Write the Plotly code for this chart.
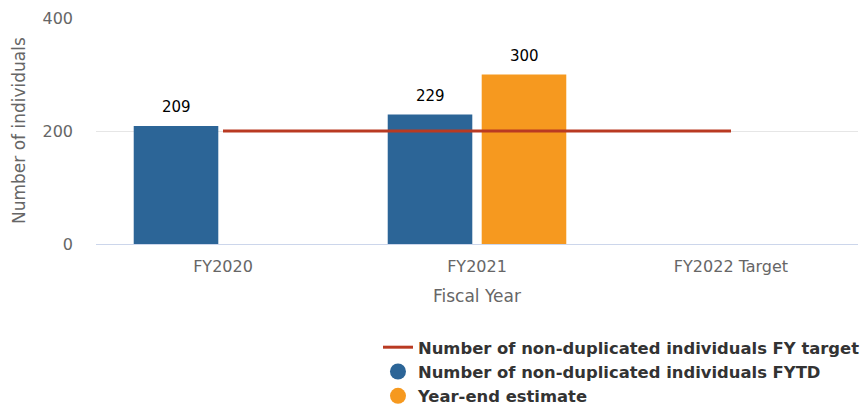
import plotly.graph_objects as go

# Fiscal year categories and series values
categories = ["FY2020", "FY2021", "FY2022 Target"]
fytd_values = [209, 229, None]
year_end_estimate = [None, 300, None]
target_values = [200, 200, 200]

target_name = "Number of non-duplicated individuals FY target"
fytd_name = "Number of non-duplicated individuals FYTD"
estimate_name = "Year-end estimate"

BLUE = "#2c6597"
ORANGE = "#f6991f"
RED = "#b93a22"
FONT = "DejaVu Sans"

fig = go.Figure()

fig.add_trace(go.Bar(
    x=categories, y=fytd_values, name=fytd_name,
    marker=dict(color=BLUE, line=dict(width=0)),
    showlegend=False,
))
fig.add_trace(go.Bar(
    x=categories, y=year_end_estimate, name=estimate_name,
    marker=dict(color=ORANGE, line=dict(width=0)),
    showlegend=False,
))
fig.add_trace(go.Scatter(
    x=categories, y=target_values, name=target_name,
    mode="lines", line=dict(color=RED, width=3),
    showlegend=True,
))
# Legend entries with round symbols for the bar series
for name, color in [(fytd_name, BLUE), (estimate_name, ORANGE)]:
    fig.add_trace(go.Scatter(
        x=[None], y=[None], name=name, mode="markers",
        marker=dict(color=color, size=17, symbol="circle"),
        showlegend=True,
    ))

# Value labels above the bars
half_slot = 47
for vals, shift in [(fytd_values, -half_slot), (year_end_estimate, half_slot)]:
    for cat, v in zip(categories, vals):
        if v is None:
            continue
        fig.add_annotation(
            x=cat, y=v, text=str(v), showarrow=False,
            xshift=shift, yshift=8, yanchor="bottom",
            font=dict(family=FONT, size=15, color="#000000"),
        )

# Y-axis title
fig.add_annotation(
    text="Number of individuals", textangle=-90, showarrow=False,
    xref="paper", yref="paper", x=0, y=0.5, xanchor="center", yanchor="middle",
    xshift=-77, font=dict(family=FONT, size=17, color="#666666"),
)

fig.update_layout(
    width=862, height=411,
    margin=dict(l=96, r=4, t=18, b=167, autoexpand=False),
    paper_bgcolor="white", plot_bgcolor="white",
    barmode="group", bargap=0.26, bargroupgap=0.1,
    font=dict(family=FONT, color="#666666"),
    legend=dict(
        xref="container", yref="container",
        x=0.4385, xanchor="left", y=0.197, yanchor="top",
        orientation="v", traceorder="normal",
        font=dict(family=FONT, size=16.4, color="#333333", weight="bold"),
        itemwidth=30, tracegroupgap=0,
        bgcolor="rgba(0,0,0,0)",
    ),
    xaxis=dict(
        type="category", showgrid=False,
        showline=True, linecolor="#ccd6eb", linewidth=1,
        ticks="", tickfont=dict(family=FONT, size=16, color="#666666"),
        ticklabelstandoff=8,
        title=dict(text="Fiscal Year", font=dict(family=FONT, size=17, color="#666666"), standoff=14),
    ),
    yaxis=dict(
        range=[0, 400], tickvals=[0, 200, 400],
        showgrid=True, gridcolor="#e6e6e6", gridwidth=1,
        zeroline=False, showline=False, ticks="",
        tickfont=dict(family=FONT, size=16, color="#666666"),
        ticklabelstandoff=22,
    ),
)

fig.write_html("out.html")
